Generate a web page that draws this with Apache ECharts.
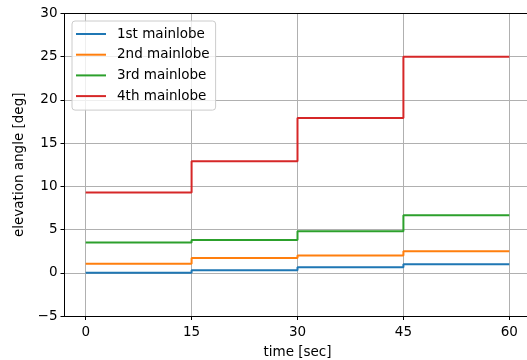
<!DOCTYPE html>
<html>
<head>
<meta charset="utf-8">
<script src="https://cdn.jsdelivr.net/npm/echarts@6/dist/echarts.min.js"></script>
<style>html,body{margin:0;padding:0;background:#fff}#c{width:527px;height:360px}</style>
</head>
<body>
<div id="c"></div>
<script>
const times = [0, 15, 30, 45, 60];
const seriesNames = ['1st mainlobe', '2nd mainlobe', '3rd mainlobe', '4th mainlobe'];
const lobe1 = [0.0, 0.3, 0.65, 1.0, 1.0];
const lobe2 = [1.05, 1.7, 2.0, 2.5, 2.5];
const lobe3 = [3.5, 3.8, 4.8, 6.65, 6.65];
const lobe4 = [9.3, 12.9, 17.9, 25.0, 25.0];
const xTicks = [0, 15, 30, 45, 60];
const colors = ['#1f77b4', '#ff7f0e', '#2ca02c', '#d62728'];

const allValues = [lobe1, lobe2, lobe3, lobe4];
const FONT = 'DejaVu Sans';
const chart = echarts.init(document.getElementById('c'), null, {renderer: 'canvas'});
const axisLineStyle = {color: '#000', width: 1};
chart.setOption({
  animation: false,
  backgroundColor: '#fff',
  textStyle: {fontFamily: FONT},
  grid: {left: 64.5, top: 13.5, right: -3.5, bottom: 44, containLabel: false, outerBoundsMode: 'none'},
  legend: {
    orient: 'vertical', left: 72, top: 21,
    data: seriesNames,
    icon: 'rect', itemWidth: 30, itemHeight: 2, itemGap: 2.7,
    padding: [4, 6, 5, 4],
    backgroundColor: 'rgba(255,255,255,0.8)',
    borderColor: '#cccccc', borderWidth: 1, borderRadius: 3,
    textStyle: {fontFamily: FONT, fontSize: 13.5, color: '#000', lineHeight: 18, padding: [0, 0, 0, 6]}
  },
  xAxis: [{
    type: 'value', min: -3, max: 63, position: 'bottom',
    name: 'time [sec]', nameLocation: 'middle', nameGap: 29,
    nameTextStyle: {fontFamily: FONT, fontSize: 13.5, color: '#000', verticalAlign: 'top'},
    axisLine: {show: true, onZero: false, lineStyle: axisLineStyle},
    axisTick: {show: true, length: 4, customValues: xTicks, lineStyle: {color: '#000'}},
    axisLabel: {customValues: xTicks, margin: 9.5, fontFamily: FONT, fontSize: 13.5, color: '#000'},
    splitLine: {show: true, lineStyle: {color: '#b0b0b0', width: 1}}
  }, {
    type: 'value', min: -3, max: 63, position: 'top',
    axisLine: {show: true, onZero: false, lineStyle: axisLineStyle},
    axisTick: {show: false}, axisLabel: {show: false}, splitLine: {show: false}
  }],
  yAxis: [{
    type: 'value', min: -5, max: 30, interval: 5, position: 'left',
    name: 'elevation angle [deg]', nameLocation: 'middle', nameGap: 35,
    nameTextStyle: {fontFamily: FONT, fontSize: 13.5, color: '#000'},
    axisLine: {show: true, onZero: false, lineStyle: axisLineStyle},
    axisTick: {show: true, length: 4, lineStyle: {color: '#000'}},
    axisLabel: {margin: 7, fontFamily: FONT, fontSize: 13.5, color: '#000',
      formatter: v => String(v).replace('-', '\u2212')},
    splitLine: {show: true, lineStyle: {color: '#b0b0b0', width: 1}}
  }, {
    type: 'value', min: -5, max: 30, interval: 5, position: 'right',
    axisLine: {show: true, onZero: false, lineStyle: axisLineStyle},
    axisTick: {show: false}, axisLabel: {show: false}, splitLine: {show: false}
  }],
  series: seriesNames.map((n, i) => ({
    name: n, type: 'line', step: 'end', showSymbol: false, symbol: 'none',
    color: colors[i],
    lineStyle: {color: colors[i], width: 2},
    data: times.map((t, j) => [t, allValues[i][j]])
  }))
});
</script>
</body>
</html>
